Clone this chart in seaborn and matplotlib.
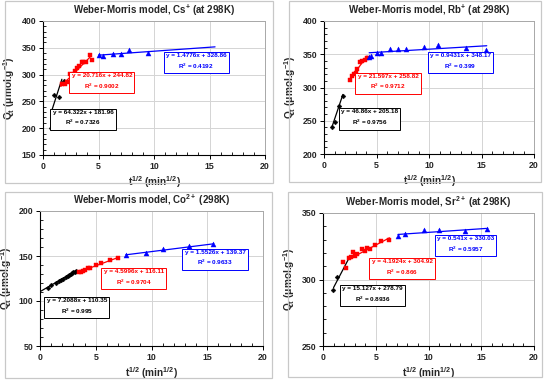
import matplotlib
matplotlib.use("Agg")
import matplotlib.pyplot as plt
from matplotlib.patches import Rectangle
from matplotlib.ticker import MultipleLocator
import seaborn as sns
import pandas as pd

sns.set_theme(style="white")
plt.rcParams['font.family'] = ['Liberation Sans', 'DejaVu Sans']
plt.rcParams['mathtext.fontset'] = 'custom'
plt.rcParams['mathtext.rm'] = 'Liberation Sans:bold'
plt.rcParams['mathtext.it'] = 'Liberation Sans:bold'
plt.rcParams['mathtext.bf'] = 'Liberation Sans:bold'
plt.rcParams['mathtext.default'] = 'rm'

# ---------------- data ----------------
# Cs+
cs_black_x = [0.7, 1.0, 1.45, 1.9]
cs_black_y = [200, 262, 258, 288]
cs_red_x = [1.75, 2.0, 2.2, 2.45, 2.6, 2.75, 2.9, 3.05, 3.2, 3.5, 3.6, 3.9, 4.25, 4.45]
cs_red_y = [282, 282, 287, 302, 295, 302, 307, 313, 316, 323, 323, 323, 336, 327]
cs_blue_x = [5.0, 5.45, 6.3, 7.05, 7.75, 9.5]
cs_blue_y = [336, 334, 338, 338, 345, 340]
cs_fits = [(64.322, 181.96, 0.7326), (20.716, 244.82, 0.9002), (1.4776, 328.86, 0.4192)]
cs_fit_ranges = [(0.75, 1.7), (1.6, 4.3), (5.0, 15.5)]

# Rb+
rb_black_x = [0.76, 1.08, 1.4, 1.81]
rb_black_y = [241, 248, 272, 287]
rb_red_x = [2.44, 2.67, 2.83, 3.0, 3.17, 3.43, 3.6, 3.87, 4.06]
rb_red_y = [312, 317, 320, 322, 328.5, 338, 340, 342, 344]
rb_blue_x = [4.3, 4.5, 5.0, 5.46, 6.3, 7.05, 7.8, 9.5, 10.9, 13.5, 15.4]
rb_blue_y = [346, 347, 352.5, 352.5, 358.5, 357.5, 358, 361.5, 364.5, 359.5, 356]
rb_fits = [(46.86, 205.18, 0.9756), (21.597, 258.82, 0.9712), (0.9431, 348.17, 0.399)]
rb_fit_ranges = [(0.75, 1.8), (2.45, 4.1), (4.3, 15.5)]

# Co2+
co_black_x = [0.7, 1.0, 1.4, 1.7, 1.9, 2.1, 2.3, 2.5, 2.6, 2.8, 2.9, 3.0, 3.1, 3.2]
co_black_y = [115, 117.5, 120, 122, 123.5, 125, 126.5, 128, 129, 130, 131, 132, 132.5, 133.5]
co_red_x = [3.5, 3.7, 3.9, 4.0, 4.3, 4.5, 5.0, 5.5, 6.3, 7.0]
co_red_y = [132, 132, 133.5, 135, 136.5, 137, 140, 142, 146, 147.5]
co_blue_x = [7.7, 9.5, 11.0, 13.4, 15.5]
co_blue_y = [151, 153, 157.5, 161, 163]
co_fits = [(7.2088, 110.35, 0.995), (4.5996, 116.11, 0.9704), (1.5526, 139.37, 0.9633)]
co_fit_ranges = [(0.0, 3.2), (3.5, 7.0), (7.7, 15.5)]

# Sr2+
sr_black_x = [0.95, 1.36]
sr_black_y = [292, 301.75]
sr_red_x = [1.9, 2.15, 2.43, 2.65, 2.8, 3.0, 3.25, 3.73, 3.95, 4.2, 4.5, 4.96, 5.47, 6.3]
sr_red_y = [313, 309, 316, 317, 320.5, 317.5, 319.5, 323, 321.7, 324, 322.7, 326, 329, 330]
sr_blue_x = [7.1, 7.74, 9.54, 10.96, 13.5, 15.5]
sr_blue_y = [332.5, 334, 337, 337.5, 336.5, 338]
sr_fits = [(15.127, 278.79, 0.8936), (4.1924, 304.92, 0.866), (0.541, 330.03, 0.5957)]
sr_fit_ranges = [(1.0, 2.4), (2.4, 6.3), (7.1, 15.5)]

titles = ["Weber-Morris model, Cs$^{+}$ (at 298K)",
          "Weber-Morris model, Rb$^{+}$ (at 298K)",
          "Weber-Morris model, Co$^{2+}$ (298K)",
          "Weber-Morris model, Sr$^{2+}$ (at 298K)"]

W, H = 550, 381
fig = plt.figure(figsize=(W / 100, H / 100), dpi=100)
fig.patch.set_facecolor('white')

def rect(l, t, r, b):
    return [l / W, 1 - b / H, (r - l) / W, (b - t) / H]

# panel frames
for (l, t, r, b) in [(5, 1, 273, 183), (289, 1, 541, 182), (5, 192, 272, 378), (288, 192, 542, 377)]:
    fig.patches.append(Rectangle((l / W, 1 - b / H), (r - l) / W, (b - t) / H,
                                 transform=fig.transFigure, fill=False,
                                 edgecolor='#c8c8c8', lw=0.9))

panels = [
    dict(pos=(43, 21, 265, 155), ylim=(150, 400),
         bx=cs_black_x, by=cs_black_y, rx=cs_red_x, ry=cs_red_y, ux=cs_blue_x, uy=cs_blue_y,
         fits=cs_fits, ranges=cs_fit_ranges,
         boxes=[(3.6, 218), (5.3, 286.5), (13.8, 323.7)]),
    dict(pos=(324, 21, 534, 154), ylim=(200, 400),
         bx=rb_black_x, by=rb_black_y, rx=rb_red_x, ry=rb_red_y, ux=rb_blue_x, uy=rb_blue_y,
         fits=rb_fits, ranges=rb_fit_ranges,
         boxes=[(4.35, 253.5), (6.1, 307.5), (13.0, 338.5)]),
    dict(pos=(40, 211, 263, 346), ylim=(50, 200),
         bx=co_black_x, by=co_black_y, rx=co_red_x, ry=co_red_y, ux=co_blue_x, uy=co_blue_y,
         fits=co_fits, ranges=co_fit_ranges,
         boxes=[(3.3, 93.6), (8.4, 125.7), (15.7, 147.2)]),
    dict(pos=(323, 213, 534, 346), ylim=(250, 350),
         bx=sr_black_x, by=sr_black_y, rx=sr_red_x, ry=sr_red_y, ux=sr_blue_x, uy=sr_blue_y,
         fits=sr_fits, ranges=sr_fit_ranges,
         boxes=[(4.7, 288.3), (7.5, 308.8), (13.5, 325.8)]),
]

colors = ['black', '#ff0000', '#0000ff']
markers = ['D', 's', '^']
msizes = [6, 11, 13]

for i, p in enumerate(panels):
    ax = fig.add_axes(rect(*p['pos']))
    ax.set_facecolor('white')
    ax.set_xlim(0, 20)
    ax.set_ylim(*p['ylim'])
    ax.xaxis.set_major_locator(MultipleLocator(5))
    ax.xaxis.set_minor_locator(MultipleLocator(1))
    ax.yaxis.set_major_locator(MultipleLocator(50))
    ax.yaxis.set_minor_locator(MultipleLocator(10))
    ax.grid(True, which='major', color='#d4d4d4', lw=0.7)
    ax.set_axisbelow(True)
    for s in ['top', 'right']:
        ax.spines[s].set_color('#a8a8a8')
        ax.spines[s].set_linewidth(0.7)
    for s in ['left', 'bottom']:
        ax.spines[s].set_color('black')
        ax.spines[s].set_linewidth(0.8)
    ax.tick_params(which='major', direction='out', length=3, width=0.7, color='black',
                   labelsize=6.3, pad=2, bottom=True, left=True)
    ax.tick_params(which='minor', direction='in', length=2, width=0.6, color='black',
                   bottom=True, left=True)
    for lab in ax.get_xticklabels() + ax.get_yticklabels():
        lab.set_fontweight('bold')

    groups = [(p['bx'], p['by']), (p['rx'], p['ry']), (p['ux'], p['uy'])]
    for k, ((gx, gy), (m, c, r2), (x0, x1)) in enumerate(zip(groups, p['fits'], p['ranges'])):
        line_df = pd.DataFrame({'x': [x0, x1], 'y': [m * x0 + c, m * x1 + c]})
        sns.lineplot(data=line_df, x='x', y='y', ax=ax, color=colors[k], lw=0.9,
                     estimator=None, sort=False)
        pts = pd.DataFrame({'x': gx, 'y': gy})
        sns.scatterplot(data=pts, x='x', y='y', ax=ax, color=colors[k], marker=markers[k],
                        s=msizes[k], edgecolor=colors[k], linewidth=0.3, zorder=3)
        bxx, byy = p['boxes'][k]
        ax.text(bxx, byy, f"y = {m}x + {c}\nR$^{{2}}$ = {r2}", ha='center', va='center',
                fontsize=4.6, fontweight='bold', color=colors[k], linespacing=1.5,
                bbox=dict(boxstyle='square,pad=0.35', fc='white', ec=colors[k], lw=0.7),
                zorder=5)

    ax.set_title(titles[i], fontsize=7, fontweight='bold', pad=5)
    ax.set_xlabel("t$^{1/2}$ (min$^{1/2}$)", fontsize=7.3, fontweight='bold', labelpad=2)
    ax.set_ylabel("Q$_{t}$ (μmol.g$^{-1}$)", fontsize=7.3, fontweight='bold', labelpad=3)

fig.savefig("out.png", dpi=100, facecolor='white')
